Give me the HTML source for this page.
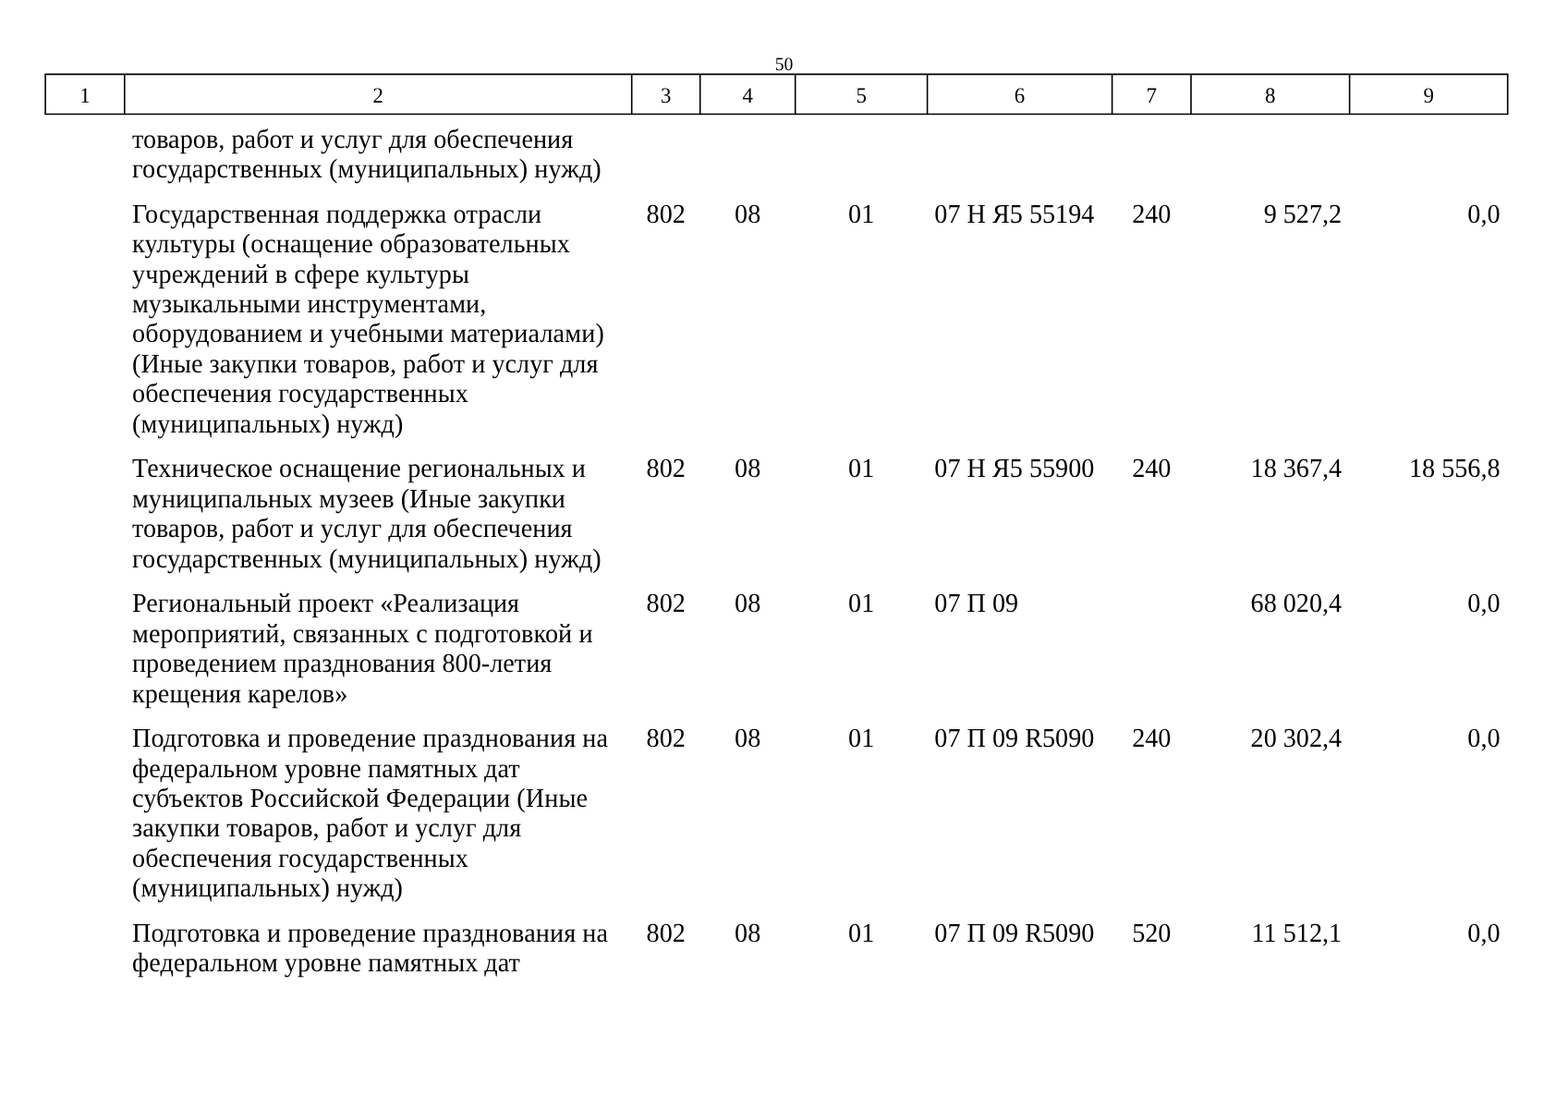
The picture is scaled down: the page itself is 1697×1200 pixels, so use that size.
<!DOCTYPE html>
<html lang="ru"><head><meta charset="utf-8"><title>50</title>
<style>
html,body{margin:0;padding:0;background:#fff;}
body{width:1697px;height:1200px;position:relative;overflow:hidden;font-family:"Liberation Serif",serif;color:#000;text-rendering:geometricPrecision;}
.t{position:absolute;white-space:nowrap;font-size:28.2px;line-height:31px;height:31px;transform:scaleY(1.03);transform-origin:0 24px;}
.c{text-align:center;}
.r{text-align:right;}
.h{position:absolute;white-space:nowrap;font-size:22.9px;line-height:25px;height:25px;text-align:center;transform:scaleY(1.03);transform-origin:0 20px;}
.pn{position:absolute;white-space:nowrap;font-size:19.7px;line-height:21px;height:21px;text-align:center;left:798.5px;width:100px;transform:scaleY(1.03);transform-origin:0 17px;}
svg{position:absolute;left:0;top:0;}
</style></head><body>
<div class="pn" style="top:60px">50</div>
<svg width="1697" height="200" viewBox="0 0 1697 200"><g stroke="#000" stroke-width="1.6" fill="none" stroke-linecap="square"><line x1="49.10" y1="80.35" x2="1631.70" y2="80.35"/><line x1="49.10" y1="123.45" x2="1631.70" y2="123.45"/><line stroke-linecap="butt" x1="49.10" y1="80.35" x2="49.10" y2="123.45"/><line stroke-linecap="butt" x1="134.80" y1="80.35" x2="134.80" y2="123.45"/><line stroke-linecap="butt" x1="683.70" y1="80.35" x2="683.70" y2="123.45"/><line stroke-linecap="butt" x1="757.70" y1="80.35" x2="757.70" y2="123.45"/><line stroke-linecap="butt" x1="860.70" y1="80.35" x2="860.70" y2="123.45"/><line stroke-linecap="butt" x1="1003.60" y1="80.35" x2="1003.60" y2="123.45"/><line stroke-linecap="butt" x1="1203.60" y1="80.35" x2="1203.60" y2="123.45"/><line stroke-linecap="butt" x1="1289.00" y1="80.35" x2="1289.00" y2="123.45"/><line stroke-linecap="butt" x1="1460.60" y1="80.35" x2="1460.60" y2="123.45"/><line stroke-linecap="butt" x1="1631.70" y1="80.35" x2="1631.70" y2="123.45"/></g></svg>
<div class="h" style="left:49.10px;width:85.70px;top:91px">1</div>
<div class="h" style="left:134.80px;width:548.90px;top:91px">2</div>
<div class="h" style="left:683.70px;width:74.00px;top:91px">3</div>
<div class="h" style="left:757.70px;width:103.00px;top:91px">4</div>
<div class="h" style="left:860.70px;width:142.90px;top:91px">5</div>
<div class="h" style="left:1003.60px;width:200.00px;top:91px">6</div>
<div class="h" style="left:1203.60px;width:85.40px;top:91px">7</div>
<div class="h" style="left:1289.00px;width:171.60px;top:91px">8</div>
<div class="h" style="left:1460.60px;width:171.10px;top:91px">9</div>
<div class="t" style="left:143.00px;top:136px;letter-spacing:0.044px">товаров, работ и услуг для обеспечения</div>
<div class="t" style="left:143.00px;top:168px;letter-spacing:0.081px">государственных (муниципальных) нужд)</div>
<div class="t" style="left:143.00px;top:217px;letter-spacing:0.169px">Государственная поддержка отрасли</div>
<div class="t" style="left:143.00px;top:249px;letter-spacing:0.083px">культуры (оснащение образовательных</div>
<div class="t" style="left:143.00px;top:282px;letter-spacing:0.107px">учреждений в сфере культуры</div>
<div class="t" style="left:143.00px;top:314px;letter-spacing:0.034px">музыкальными инструментами,</div>
<div class="t" style="left:143.00px;top:346px;letter-spacing:0.123px">оборудованием и учебными материалами)</div>
<div class="t" style="left:143.00px;top:379px;letter-spacing:0.030px">(Иные закупки товаров, работ и услуг для</div>
<div class="t" style="left:143.00px;top:411px;letter-spacing:0.060px">обеспечения государственных</div>
<div class="t" style="left:143.00px;top:444px;letter-spacing:0.014px">(муниципальных) нужд)</div>
<div class="t c" style="left:683.70px;width:74.00px;top:217px">802</div>
<div class="t c" style="left:757.70px;width:103.00px;top:217px">08</div>
<div class="t c" style="left:860.70px;width:142.90px;top:217px">01</div>
<div class="t" style="left:1011.30px;top:217px">07 Н Я5 55194</div>
<div class="t c" style="left:1203.60px;width:85.40px;top:217px">240</div>
<div class="t r" style="left:1289.00px;width:163.20px;top:217px">9 527,2</div>
<div class="t r" style="left:1460.60px;width:163.00px;top:217px">0,0</div>
<div class="t" style="left:143.00px;top:492px;letter-spacing:0.028px">Техническое оснащение региональных и</div>
<div class="t" style="left:143.00px;top:525px;letter-spacing:0.002px">муниципальных музеев (Иные закупки</div>
<div class="t" style="left:143.00px;top:557px;letter-spacing:0.026px">товаров, работ и услуг для обеспечения</div>
<div class="t" style="left:143.00px;top:590px;letter-spacing:0.081px">государственных (муниципальных) нужд)</div>
<div class="t c" style="left:683.70px;width:74.00px;top:492px">802</div>
<div class="t c" style="left:757.70px;width:103.00px;top:492px">08</div>
<div class="t c" style="left:860.70px;width:142.90px;top:492px">01</div>
<div class="t" style="left:1011.30px;top:492px">07 Н Я5 55900</div>
<div class="t c" style="left:1203.60px;width:85.40px;top:492px">240</div>
<div class="t r" style="left:1289.00px;width:163.20px;top:492px">18 367,4</div>
<div class="t r" style="left:1460.60px;width:163.00px;top:492px">18 556,8</div>
<div class="t" style="left:143.00px;top:638px;letter-spacing:-0.005px">Региональный проект «Реализация</div>
<div class="t" style="left:143.00px;top:671px;letter-spacing:0.111px">мероприятий, связанных с подготовкой и</div>
<div class="t" style="left:143.00px;top:703px;letter-spacing:0.038px">проведением празднования 800-летия</div>
<div class="t" style="left:143.00px;top:736px;letter-spacing:0.038px">крещения карелов»</div>
<div class="t c" style="left:683.70px;width:74.00px;top:638px">802</div>
<div class="t c" style="left:757.70px;width:103.00px;top:638px">08</div>
<div class="t c" style="left:860.70px;width:142.90px;top:638px">01</div>
<div class="t" style="left:1011.30px;top:638px">07 П 09</div>
<div class="t r" style="left:1289.00px;width:163.20px;top:638px">68 020,4</div>
<div class="t r" style="left:1460.60px;width:163.00px;top:638px">0,0</div>
<div class="t" style="left:143.00px;top:784px;letter-spacing:0.105px">Подготовка и проведение празднования на</div>
<div class="t" style="left:143.00px;top:817px;letter-spacing:0.015px">федеральном уровне памятных дат</div>
<div class="t" style="left:143.00px;top:849px;letter-spacing:0.124px">субъектов Российской Федерации (Иные</div>
<div class="t" style="left:143.00px;top:881px;letter-spacing:0.038px">закупки товаров, работ и услуг для</div>
<div class="t" style="left:143.00px;top:914px;letter-spacing:0.060px">обеспечения государственных</div>
<div class="t" style="left:143.00px;top:946px;letter-spacing:0.000px">(муниципальных) нужд)</div>
<div class="t c" style="left:683.70px;width:74.00px;top:784px">802</div>
<div class="t c" style="left:757.70px;width:103.00px;top:784px">08</div>
<div class="t c" style="left:860.70px;width:142.90px;top:784px">01</div>
<div class="t" style="left:1011.30px;top:784px">07 П 09 R5090</div>
<div class="t c" style="left:1203.60px;width:85.40px;top:784px">240</div>
<div class="t r" style="left:1289.00px;width:163.20px;top:784px">20 302,4</div>
<div class="t r" style="left:1460.60px;width:163.00px;top:784px">0,0</div>
<div class="t" style="left:143.00px;top:995px;letter-spacing:0.105px">Подготовка и проведение празднования на</div>
<div class="t" style="left:143.00px;top:1027px;letter-spacing:0.025px">федеральном уровне памятных дат</div>
<div class="t c" style="left:683.70px;width:74.00px;top:995px">802</div>
<div class="t c" style="left:757.70px;width:103.00px;top:995px">08</div>
<div class="t c" style="left:860.70px;width:142.90px;top:995px">01</div>
<div class="t" style="left:1011.30px;top:995px">07 П 09 R5090</div>
<div class="t c" style="left:1203.60px;width:85.40px;top:995px">520</div>
<div class="t r" style="left:1289.00px;width:163.20px;top:995px">11 512,1</div>
<div class="t r" style="left:1460.60px;width:163.00px;top:995px">0,0</div>
</body></html>
